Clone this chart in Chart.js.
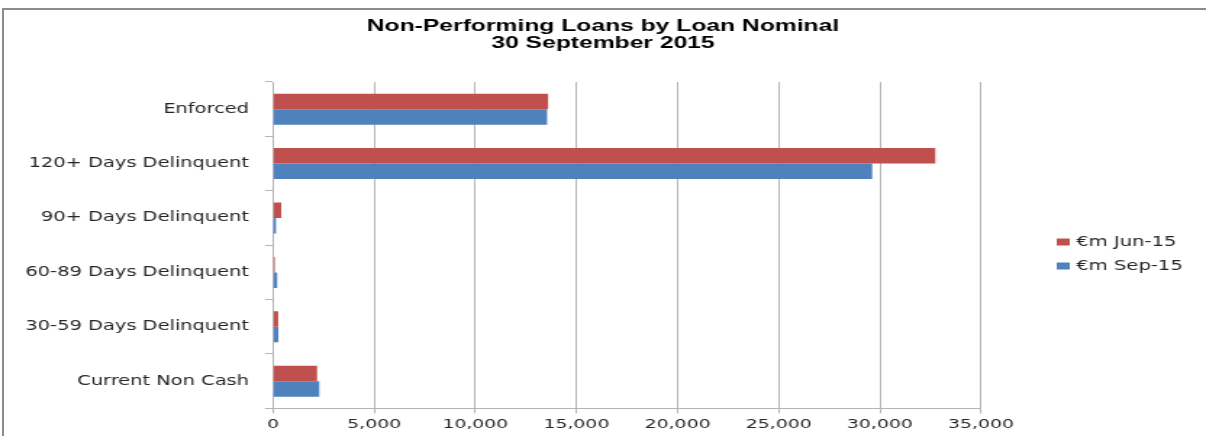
<!DOCTYPE html>
<html>
<head>
<meta charset="utf-8">
<script src="https://cdn.jsdelivr.net/npm/chart.js@4/dist/chart.umd.min.js"></script>
<style>
  html, body { margin: 0; padding: 0; background: #fff; overflow: hidden; }
  #frame {
    position: absolute; left: 2px; top: 8px; width: 1204px; height: 428px;
    border-top: 2px solid #8c8c8c; border-left: 2px solid #8c8c8c;
    box-sizing: border-box;
  }
  /* chart is drawn narrow and widened horizontally */
  #wrap {
    position: absolute; left: 0; top: 0; width: 832px; height: 436px;
    transform: scaleX(1.4495); transform-origin: 0 0;
  }
</style>
</head>
<body>
<div id="frame"></div>
<div id="wrap"><canvas id="npl_chart" width="832" height="436"></canvas></div>
<script>
const categories = [
  "Enforced",
  "120+ Days Delinquent",
  "90+ Days Delinquent",
  "60-89 Days Delinquent",
  "30-59 Days Delinquent",
  "Current Non Cash"
];
const seriesNames = ["€m Jun-15", "€m Sep-15"];
const jun15 = [13600, 32740, 410, 90, 260, 2180];
const sep15 = [13550, 29620, 150, 210, 270, 2290];
const titleLines = ["Non-Performing Loans by Loan Nominal", "30 September 2015"];

const RED = "#C0504D";
const BLUE = "#4F81BD";
const TEXT = "#262626";
const GRID = "#b4b4b4";

// simple legend drawn in the empty band right of the plot
const sideLegend = {
  id: "sideLegend",
  afterDraw(chart) {
    const ctx = chart.ctx;
    const rows = [242, 266];
    ctx.save();
    ctx.font = "13.5px 'DejaVu Sans'";
    ctx.textBaseline = "middle";
    chart.data.datasets.forEach((ds, i) => {
      const y = rows[i];
      ctx.fillStyle = ds.backgroundColor;
      ctx.fillRect(729, y - 3.5, 9, 7);
      ctx.fillStyle = TEXT;
      ctx.fillText(ds.label, 742.5, y + 0.5);
    });
    ctx.restore();
  }
};

new Chart(document.getElementById("npl_chart"), {
  type: "bar",
  data: {
    labels: categories,
    datasets: [
      { label: seriesNames[0], data: jun15, backgroundColor: RED },
      { label: seriesNames[1], data: sep15, backgroundColor: BLUE }
    ]
  },
  options: {
    indexAxis: "y",
    responsive: false,
    animation: false,
    categoryPercentage: 0.57,
    barPercentage: 1.0,
    layout: { padding: { top: 18, left: 0, right: 0, bottom: 0 } },
    plugins: {
      legend: { display: false },
      tooltip: { enabled: false },
      title: {
        display: true,
        text: titleLines,
        color: "#000",
        font: { family: "'Liberation Sans'", size: 17, weight: "bold", lineHeight: 1.0 },
        padding: { top: 0, bottom: 30 }
      }
    },
    scales: {
      x: {
        min: 0,
        max: 35000,
        ticks: {
          stepSize: 5000,
          color: TEXT,
          padding: 5,
          font: { family: "'DejaVu Sans'", size: 13, lineHeight: 0.97 },
          callback: v => v.toLocaleString("en-US")
        },
        grid: { color: GRID, lineWidth: 1, tickLength: 5 },
        border: { display: true, color: GRID, width: 1 }
      },
      y: {
        afterFit(scale) { scale.width = 188.3; },
        ticks: {
          color: TEXT,
          padding: 11,
          font: { family: "'DejaVu Sans'", size: 13.4 }
        },
        grid: { offset: true, drawOnChartArea: false, color: GRID, tickLength: 5.5 },
        border: { display: true, color: GRID, width: 1 }
      },
      // blank right-hand band that holds the legend
      legendBand: {
        type: "category",
        position: "right",
        afterFit(scale) { scale.width = 155.2; },
        ticks: { display: false },
        grid: { display: false },
        border: { display: false }
      }
    }
  },
  plugins: [sideLegend]
});
</script>
</body>
</html>
